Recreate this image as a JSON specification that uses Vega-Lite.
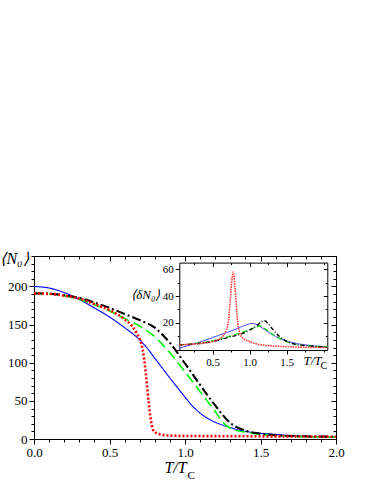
{
  "$schema": "https://vega.github.io/schema/vega-lite/v6.json",
  "width": 302,
  "height": 183,
  "autosize": "none",
  "padding": {"left": 34, "top": 256, "right": 38, "bottom": 45},
  "background": "white",
  "config": {
    "view": {"stroke": null},
    "font": "Liberation Serif",
    "axis": {
      "grid": false,
      "domainColor": "black",
      "domainWidth": 1,
      "tickColor": "black",
      "tickWidth": 1,
      "labelColor": "black",
      "labelFont": "Liberation Serif",
      "titleFont": "Liberation Serif",
      "titleColor": "black",
      "titleFontWeight": "normal",
      "labelOverlap": false,
      "labelFlush": false,
      "labelBound": false
    }
  },
  "datasets": {
    "main": [
      {"s": "blue", "T": 0, "v": 200}, {"s": "blue", "T": 0.1, "v": 198}, {"s": "blue", "T": 0.2, "v": 192}, {"s": "blue", "T": 0.3, "v": 183}, {"s": "blue", "T": 0.4, "v": 172}, {"s": "blue", "T": 0.5, "v": 160}, {"s": "blue", "T": 0.6, "v": 146}, {"s": "blue", "T": 0.7, "v": 130}, {"s": "blue", "T": 0.75, "v": 119}, {"s": "blue", "T": 0.8, "v": 106}, {"s": "blue", "T": 0.9, "v": 80}, {"s": "blue", "T": 1.0, "v": 55}, {"s": "blue", "T": 1.05, "v": 43}, {"s": "blue", "T": 1.1, "v": 34}, {"s": "blue", "T": 1.15, "v": 27}, {"s": "blue", "T": 1.2, "v": 22}, {"s": "blue", "T": 1.3, "v": 15}, {"s": "blue", "T": 1.4, "v": 10}, {"s": "blue", "T": 1.5, "v": 7.5}, {"s": "blue", "T": 1.6, "v": 6}, {"s": "blue", "T": 1.7, "v": 4.5}, {"s": "blue", "T": 1.8, "v": 3.5}, {"s": "blue", "T": 2.0, "v": 2},
      {"s": "green", "T": 0, "v": 191}, {"s": "green", "T": 0.1, "v": 190.5}, {"s": "green", "T": 0.2, "v": 188}, {"s": "green", "T": 0.3, "v": 183}, {"s": "green", "T": 0.4, "v": 176}, {"s": "green", "T": 0.5, "v": 168}, {"s": "green", "T": 0.6, "v": 158}, {"s": "green", "T": 0.7, "v": 148}, {"s": "green", "T": 0.8, "v": 134}, {"s": "green", "T": 0.9, "v": 113}, {"s": "green", "T": 1.0, "v": 88}, {"s": "green", "T": 1.1, "v": 62}, {"s": "green", "T": 1.2, "v": 36}, {"s": "green", "T": 1.25, "v": 22}, {"s": "green", "T": 1.3, "v": 14}, {"s": "green", "T": 1.4, "v": 9}, {"s": "green", "T": 1.5, "v": 6}, {"s": "green", "T": 1.6, "v": 4.5}, {"s": "green", "T": 1.8, "v": 3}, {"s": "green", "T": 2.0, "v": 2.5},
      {"s": "black", "T": 0, "v": 191}, {"s": "black", "T": 0.1, "v": 190.5}, {"s": "black", "T": 0.2, "v": 188.5}, {"s": "black", "T": 0.3, "v": 185}, {"s": "black", "T": 0.4, "v": 179}, {"s": "black", "T": 0.5, "v": 172}, {"s": "black", "T": 0.6, "v": 164}, {"s": "black", "T": 0.7, "v": 156}, {"s": "black", "T": 0.8, "v": 146}, {"s": "black", "T": 0.9, "v": 126}, {"s": "black", "T": 1.0, "v": 99}, {"s": "black", "T": 1.1, "v": 71}, {"s": "black", "T": 1.2, "v": 44}, {"s": "black", "T": 1.3, "v": 21}, {"s": "black", "T": 1.4, "v": 11}, {"s": "black", "T": 1.5, "v": 7}, {"s": "black", "T": 1.6, "v": 5}, {"s": "black", "T": 1.8, "v": 3.5}, {"s": "black", "T": 2.0, "v": 3},
      {"s": "red", "T": 0, "v": 191}, {"s": "red", "T": 0.1, "v": 190.5}, {"s": "red", "T": 0.2, "v": 188}, {"s": "red", "T": 0.3, "v": 184}, {"s": "red", "T": 0.4, "v": 177}, {"s": "red", "T": 0.5, "v": 169}, {"s": "red", "T": 0.6, "v": 157}, {"s": "red", "T": 0.65, "v": 148}, {"s": "red", "T": 0.68, "v": 139}, {"s": "red", "T": 0.7, "v": 131}, {"s": "red", "T": 0.72, "v": 117}, {"s": "red", "T": 0.73, "v": 104}, {"s": "red", "T": 0.74, "v": 87}, {"s": "red", "T": 0.75, "v": 67}, {"s": "red", "T": 0.76, "v": 47}, {"s": "red", "T": 0.77, "v": 30}, {"s": "red", "T": 0.78, "v": 18}, {"s": "red", "T": 0.8, "v": 9}, {"s": "red", "T": 0.85, "v": 5.5}, {"s": "red", "T": 0.9, "v": 4.5}, {"s": "red", "T": 1.0, "v": 4}, {"s": "red", "T": 1.5, "v": 3.5}, {"s": "red", "T": 2.0, "v": 3}
    ],
    "inset": [
      {"s": "blue", "T": 0.05, "v": 1}, {"s": "blue", "T": 0.2, "v": 3.5}, {"s": "blue", "T": 0.4, "v": 7}, {"s": "blue", "T": 0.6, "v": 11}, {"s": "blue", "T": 0.8, "v": 15}, {"s": "blue", "T": 0.9, "v": 17.3}, {"s": "blue", "T": 1.0, "v": 19.2}, {"s": "blue", "T": 1.05, "v": 19.5}, {"s": "blue", "T": 1.1, "v": 18.5}, {"s": "blue", "T": 1.2, "v": 15}, {"s": "blue", "T": 1.3, "v": 11.5}, {"s": "blue", "T": 1.4, "v": 8.5}, {"s": "blue", "T": 1.5, "v": 6.5}, {"s": "blue", "T": 1.6, "v": 5}, {"s": "blue", "T": 1.8, "v": 3.2}, {"s": "blue", "T": 2.05, "v": 1.8},
      {"s": "green", "T": 0.05, "v": 3.5}, {"s": "green", "T": 0.3, "v": 4.8}, {"s": "green", "T": 0.5, "v": 6.5}, {"s": "green", "T": 0.7, "v": 9.5}, {"s": "green", "T": 0.9, "v": 13}, {"s": "green", "T": 1.0, "v": 15}, {"s": "green", "T": 1.1, "v": 17}, {"s": "green", "T": 1.15, "v": 17.8}, {"s": "green", "T": 1.2, "v": 16}, {"s": "green", "T": 1.3, "v": 12}, {"s": "green", "T": 1.4, "v": 8.5}, {"s": "green", "T": 1.5, "v": 6}, {"s": "green", "T": 1.6, "v": 4.2}, {"s": "green", "T": 1.8, "v": 2.8}, {"s": "green", "T": 2.05, "v": 2},
      {"s": "black", "T": 0.05, "v": 3.5}, {"s": "black", "T": 0.3, "v": 4.5}, {"s": "black", "T": 0.5, "v": 6}, {"s": "black", "T": 0.7, "v": 9}, {"s": "black", "T": 0.9, "v": 12}, {"s": "black", "T": 1.0, "v": 14.5}, {"s": "black", "T": 1.1, "v": 18}, {"s": "black", "T": 1.15, "v": 20.5}, {"s": "black", "T": 1.2, "v": 21.5}, {"s": "black", "T": 1.25, "v": 19.5}, {"s": "black", "T": 1.3, "v": 16}, {"s": "black", "T": 1.4, "v": 10}, {"s": "black", "T": 1.5, "v": 6.2}, {"s": "black", "T": 1.6, "v": 4.2}, {"s": "black", "T": 1.8, "v": 2.8}, {"s": "black", "T": 2.05, "v": 2},
      {"s": "red", "T": 0.05, "v": 3.5}, {"s": "red", "T": 0.2, "v": 4}, {"s": "red", "T": 0.4, "v": 5}, {"s": "red", "T": 0.5, "v": 6}, {"s": "red", "T": 0.6, "v": 8}, {"s": "red", "T": 0.65, "v": 11}, {"s": "red", "T": 0.7, "v": 17}, {"s": "red", "T": 0.72, "v": 25}, {"s": "red", "T": 0.74, "v": 38}, {"s": "red", "T": 0.76, "v": 52}, {"s": "red", "T": 0.78, "v": 58}, {"s": "red", "T": 0.8, "v": 48}, {"s": "red", "T": 0.82, "v": 33}, {"s": "red", "T": 0.84, "v": 20}, {"s": "red", "T": 0.87, "v": 12}, {"s": "red", "T": 0.9, "v": 9}, {"s": "red", "T": 1.0, "v": 6}, {"s": "red", "T": 1.1, "v": 4.2}, {"s": "red", "T": 1.3, "v": 2.8}, {"s": "red", "T": 1.6, "v": 2}, {"s": "red", "T": 2.05, "v": 1.5}
    ]
  },
  "layer": [
    {
      "data": {"name": "main"},
      "mark": {"type": "line", "interpolate": "monotone"},
      "encoding": {
        "x": {
          "field": "T", "type": "quantitative",
          "scale": {"domain": [0, 2], "nice": false, "zero": false},
          "axis": {
            "orient": "bottom",
            "values": [0, 0.1, 0.2, 0.3, 0.4, 0.5, 0.6, 0.7, 0.8, 0.9, 1, 1.1, 1.2, 1.3, 1.4, 1.5, 1.6, 1.7, 1.8, 1.9, 2],
            "labelExpr": "round(datum.value*10) % 5 === 0 ? format(datum.value, '.1f') : ''",
            "tickSize": {"condition": {"test": "round(datum.value*10) % 5 === 0", "value": 5}, "value": 3},
            "labelFontSize": 13,
            "labelPadding": 2,
            "title": "T/T",
            "titleFontSize": 16,
            "titleFontStyle": "italic",
            "titleX": 141,
            "titleY": 33,
            "titleAlign": "center",
            "titleBaseline": "alphabetic"
          }
        },
        "y": {
          "field": "v", "type": "quantitative",
          "scale": {"domain": [0, 240], "nice": false, "zero": false},
          "axis": {
            "orient": "left",
            "values": [0, 10, 20, 30, 40, 50, 60, 70, 80, 90, 100, 110, 120, 130, 140, 150, 160, 170, 180, 190, 200, 210, 220, 230, 240],
            "labelExpr": "datum.value % 50 === 0 && datum.value <= 200 ? datum.label : ''",
            "tickSize": {"condition": {"test": "datum.value % 50 === 0", "value": 5}, "value": 3},
            "labelFontSize": 13,
            "labelPadding": 2,
            "title": "⟨N₀⟩",
            "titleAngle": 0,
            "titleX": -20,
            "titleY": 2,
            "titleAlign": "center",
            "titleBaseline": "middle",
            "titleFontSize": 16,
            "titleFontStyle": "italic"
          }
        },
        "color": {"field": "s", "type": "nominal", "legend": null,
          "scale": {"domain": ["blue", "green", "black", "red"], "range": ["#0000ff", "#00ff00", "#000000", "#ff0000"]}},
        "strokeDash": {"field": "s", "type": "nominal", "legend": null,
          "scale": {"domain": ["blue", "green", "black", "red"], "range": [[1, 0], [10, 5], [9, 3, 2, 3], [2, 2]]}},
        "strokeWidth": {"field": "s", "type": "nominal", "legend": null,
          "scale": {"domain": ["blue", "green", "black", "red"], "range": [1.1, 2.6, 2.6, 2.2]}}
      }
    },
    {
      "data": {"name": "main"},
      "mark": {"type": "point", "opacity": 0},
      "encoding": {
        "x": {
          "field": "T", "type": "quantitative",
          "scale": {"domain": [0, 2], "nice": false, "zero": false},
          "axis": {
            "orient": "top",
            "values": [0, 0.1, 0.2, 0.3, 0.4, 0.5, 0.6, 0.7, 0.8, 0.9, 1, 1.1, 1.2, 1.3, 1.4, 1.5, 1.6, 1.7, 1.8, 1.9, 2],
            "labels": false,
            "tickSize": {"condition": {"test": "round(datum.value*10) % 5 === 0", "value": -5}, "value": -3},
            "title": "C",
            "titleFontSize": 11,
            "titleFontStyle": "normal",
            "titleX": 153,
            "titleY": 222,
            "titleAlign": "left",
            "titleBaseline": "alphabetic"
          }
        },
        "y": {
          "field": "v", "type": "quantitative",
          "scale": {"domain": [0, 240], "nice": false, "zero": false},
          "axis": {
            "orient": "right",
            "values": [0, 10, 20, 30, 40, 50, 60, 70, 80, 90, 100, 110, 120, 130, 140, 150, 160, 170, 180, 190, 200, 210, 220, 230, 240],
            "labels": false,
            "tickSize": {"condition": {"test": "datum.value % 50 === 0", "value": -5}, "value": -3},
            "title": null
          }
        }
      }
    },
    {
      "data": {"name": "inset"},
      "mark": {"type": "line", "interpolate": "monotone"},
      "encoding": {
        "x": {
          "field": "T", "type": "quantitative",
          "scale": {"domain": [0.05, 2.05], "range": [145.3, 293.3], "nice": false, "zero": false},
          "axis": {
            "orient": "bottom",
            "offset": -89,
            "values": [0.25, 0.5, 0.75, 1, 1.25, 1.5, 1.75, 2],
            "labelExpr": "(datum.value == 0.5 || datum.value == 1 || datum.value == 1.5) ? format(datum.value, '.1f') : ''",
            "tickSize": {"condition": {"test": "datum.value == 0.5 || datum.value == 1 || datum.value == 1.5", "value": 4}, "value": 2},
            "labelFontSize": 11,
            "labelPadding": 2,
            "title": "T/T",
            "titleFontSize": 13,
            "titleFontStyle": "italic",
            "titleX": 269,
            "titleY": 14,
            "titleAlign": "left",
            "titleBaseline": "alphabetic"
          }
        },
        "y": {
          "field": "v", "type": "quantitative",
          "scale": {"domain": [0, 65], "range": [93.6, 6.6], "nice": false, "zero": false},
          "axis": {
            "orient": "left",
            "offset": -145.3,
            "values": [0, 10, 20, 30, 40, 50, 60],
            "labelExpr": "datum.value == 20 || datum.value == 40 || datum.value == 60 ? datum.label : ''",
            "tickSize": {"condition": {"test": "datum.value % 20 === 0", "value": 4}, "value": 2},
            "labelFontSize": 11,
            "labelPadding": 2,
            "title": "⟨δN₀⟩",
            "titleAngle": 0,
            "titleX": -34,
            "titleY": 38,
            "titleAlign": "center",
            "titleBaseline": "middle",
            "titleFontSize": 13,
            "titleFontStyle": "italic"
          }
        },
        "color": {"field": "s", "type": "nominal", "legend": null,
          "scale": {"domain": ["blue", "green", "black", "red"], "range": ["#3333ff", "#00e000", "#000000", "#ff3333"]}},
        "strokeDash": {"field": "s", "type": "nominal", "legend": null,
          "scale": {"domain": ["blue", "green", "black", "red"], "range": [[1, 0], [5, 3], [4, 2, 1, 2], [1.5, 1]]}},
        "strokeWidth": {"field": "s", "type": "nominal", "legend": null,
          "scale": {"domain": ["blue", "green", "black", "red"], "range": [1, 1.6, 1.3, 1]}}
      }
    },
    {
      "data": {"name": "inset"},
      "mark": {"type": "point", "opacity": 0},
      "encoding": {
        "x": {
          "field": "T", "type": "quantitative",
          "scale": {"domain": [0.05, 2.05], "range": [145.3, 293.3], "nice": false, "zero": false},
          "axis": {
            "orient": "top",
            "offset": -6.6,
            "values": [0.25, 0.5, 0.75, 1, 1.25, 1.5, 1.75, 2],
            "labels": false,
            "tickSize": {"condition": {"test": "datum.value == 0.5 || datum.value == 1 || datum.value == 1.5", "value": -4}, "value": -2},
            "title": "C",
            "titleFontSize": 10,
            "titleFontStyle": "normal",
            "titleX": 286,
            "titleY": 106,
            "titleAlign": "left",
            "titleBaseline": "alphabetic"
          }
        },
        "y": {
          "field": "v", "type": "quantitative",
          "scale": {"domain": [0, 65], "range": [93.6, 6.6], "nice": false, "zero": false},
          "axis": {
            "orient": "right",
            "offset": -8.7,
            "values": [0, 10, 20, 30, 40, 50, 60],
            "labels": false,
            "tickSize": {"condition": {"test": "datum.value % 20 === 0", "value": -4}, "value": -2},
            "title": null
          }
        }
      }
    }
  ],
  "resolve": {
    "scale": {"x": "independent", "y": "independent", "color": "independent", "strokeDash": "independent", "strokeWidth": "independent"},
    "axis": {"x": "independent", "y": "independent"}
  }
}
